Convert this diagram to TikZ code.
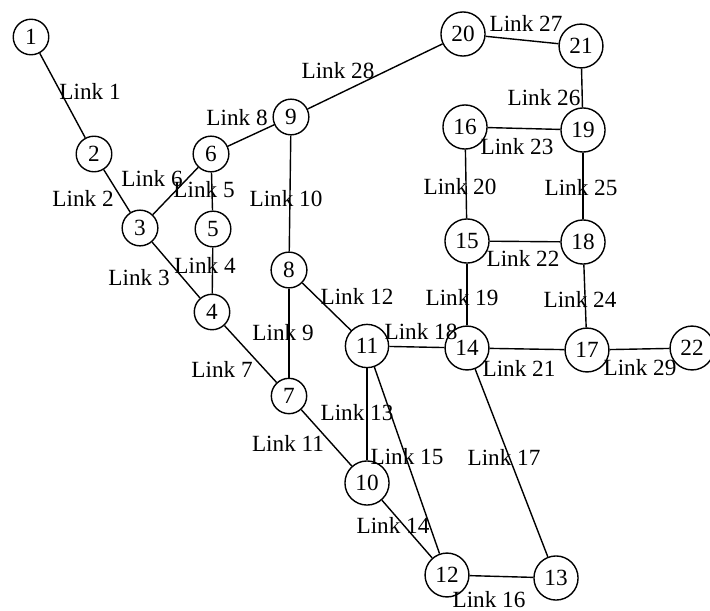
\documentclass[tikz,border=0pt]{standalone}
\usepackage{fontspec}
\setmainfont{Liberation Serif}
\usepackage{tikz}
\tikzstyle{station} = [draw, circle, inner sep=2.9pt, line width=0.7pt]
\tikzstyle{link} = [line width=0.7pt]
\tikzstyle{linklabel} = [inner sep=0pt]

\begin{document}
\begin{tikzpicture}[x=0.5pt, y=-0.5pt]
    \fontsize{11.6pt}{13pt}\selectfont
    \useasboundingbox (0,0) rectangle (710,610);

    % Place the stations
    \node [station] (n1) at (31,37) {1};
    \node [station] (n2) at (94,154) {2};
    \node [station] (n3) at (140,228) {3};
    \node [station] (n4) at (212,312) {4};
    \node [station] (n5) at (213,229) {5};
    \node [station] (n6) at (211,154) {6};
    \node [station] (n7) at (289,396) {7};
    \node [station] (n8) at (289,270) {8};
    \node [station] (n9) at (291,117) {9};
    \node [station] (n10) at (367,483) {10};
    \node [station] (n11) at (367,346) {11};
    \node [station] (n12) at (447,575) {12};
    \node [station] (n13) at (556,578) {13};
    \node [station] (n14) at (467,348) {14};
    \node [station] (n15) at (467,241) {15};
    \node [station] (n16) at (465,127) {16};
    \node [station] (n17) at (587,350) {17};
    \node [station] (n18) at (583,242) {18};
    \node [station] (n19) at (583,130) {19};
    \node [station] (n20) at (463,34) {20};
    \node [station] (n21) at (581,46) {21};
    \node [station] (n22) at (692,348) {22};

    % Connect the stations
    \draw [link] (n1) -- (n2);
    \draw [link] (n2) -- (n3);
    \draw [link] (n3) -- (n4);
    \draw [link] (n4) -- (n5);
    \draw [link] (n5) -- (n6);
    \draw [link] (n3) -- (n6);
    \draw [link] (n4) -- (n7);
    \draw [link] (n6) -- (n9);
    \draw [link] (n7) -- (n8);
    \draw [link] (n8) -- (n9);
    \draw [link] (n7) -- (n10);
    \draw [link] (n8) -- (n11);
    \draw [link] (n10) -- (n11);
    \draw [link] (n10) -- (n12);
    \draw [link] (n11) -- (n12);
    \draw [link] (n12) -- (n13);
    \draw [link] (n13) -- (n14);
    \draw [link] (n11) -- (n14);
    \draw [link] (n14) -- (n15);
    \draw [link] (n15) -- (n16);
    \draw [link] (n14) -- (n17);
    \draw [link] (n15) -- (n18);
    \draw [link] (n16) -- (n19);
    \draw [link] (n17) -- (n18);
    \draw [link] (n18) -- (n19);
    \draw [link] (n19) -- (n21);
    \draw [link] (n20) -- (n21);
    \draw [link] (n9) -- (n20);
    \draw [link] (n17) -- (n22);

    % Label the links
    \node [linklabel] (l1) at (90,91) {Link 1};
    \node [linklabel] (l2) at (83,198) {Link 2};
    \node [linklabel] (l3) at (139,278) {Link 3};
    \node [linklabel] (l4) at (205,265) {Link 4};
    \node [linklabel] (l5) at (204,190) {Link 5};
    \node [linklabel] (l6) at (152,179) {Link 6};
    \node [linklabel] (l7) at (222,369) {Link 7};
    \node [linklabel] (l8) at (237,118) {Link 8};
    \node [linklabel] (l9) at (283,333) {Link 9};
    \node [linklabel] (l10) at (286,199) {Link 10};
    \node [linklabel] (l11) at (288,443) {Link 11};
    \node [linklabel] (l12) at (357,296) {Link 12};
    \node [linklabel] (l13) at (357,413) {Link 13};
    \node [linklabel] (l14) at (393,525) {Link 14};
    \node [linklabel] (l15) at (407,457) {Link 15};
    \node [linklabel] (l16) at (489,600) {Link 16};
    \node [linklabel] (l17) at (504,457) {Link 17};
    \node [linklabel] (l18) at (421,332) {Link 18};
    \node [linklabel] (l19) at (462,298) {Link 19};
    \node [linklabel] (l20) at (460,187) {Link 20};
    \node [linklabel] (l21) at (519,368) {Link 21};
    \node [linklabel] (l22) at (523,258) {Link 22};
    \node [linklabel] (l23) at (517,147) {Link 23};
    \node [linklabel] (l24) at (580,299) {Link 24};
    \node [linklabel] (l25) at (581,188) {Link 25};
    \node [linklabel] (l26) at (544,98) {Link 26};
    \node [linklabel] (l27) at (526,23) {Link 27};
    \node [linklabel] (l28) at (338,71) {Link 28};
    \node [linklabel] (l29) at (640,368) {Link 29};
\end{tikzpicture}
\end{document}
